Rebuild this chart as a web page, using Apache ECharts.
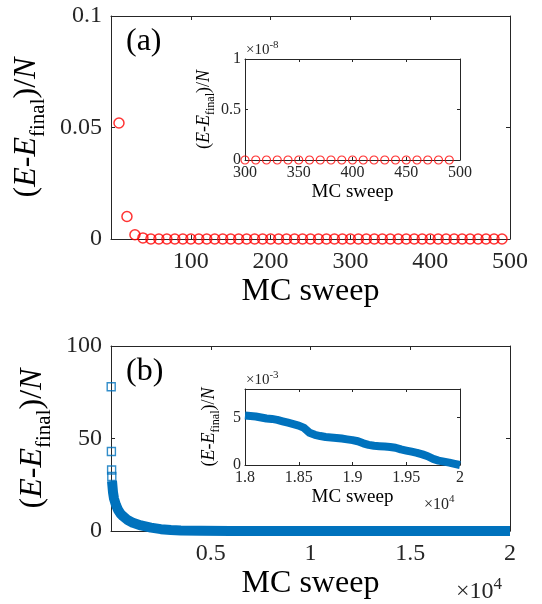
<!DOCTYPE html>
<html>
<head>
<meta charset="utf-8">
<script src="https://cdn.jsdelivr.net/npm/echarts@6/dist/echarts.min.js"></script>
<style>
  html, body { margin: 0; padding: 0; background: #fff; }
  #chart { width: 542px; height: 604px; }
</style>
</head>
<body>
<div id="chart"></div>
<script>
// panel (a): energy difference per spin vs MC sweep (first 500 sweeps)
var aSweep = [10, 20, 30, 40, 50, 60, 70, 80, 90, 100, 110, 120, 130, 140, 150, 160, 170, 180, 190, 200,
    210, 220, 230, 240, 250, 260, 270, 280, 290, 300, 310, 320, 330, 340, 350, 360, 370, 380, 390, 400,
    410, 420, 430, 440, 450, 460, 470, 480, 490];
var aVal = [0.052, 0.0101, 0.0019, 0.0005, 0, 0, 0, 0, 0, 0, 0, 0, 0, 0, 0, 0, 0, 0, 0, 0,
    0, 0, 0, 0, 0, 0, 0, 0, 0, 0, 0, 0, 0, 0, 0, 0, 0, 0, 0, 0,
    0, 0, 0, 0, 0, 0, 0, 0, 0];
// inset (a): sweeps 300..490, values in units of 1e-8
var aInSweep = [300, 310, 320, 330, 340, 350, 360, 370, 380, 390, 400, 410, 420, 430, 440, 450, 460, 470, 480, 490];
var aInVal = [0, 0, 0, 0, 0, 0, 0, 0, 0, 0, 0, 0, 0, 0, 0, 0, 0, 0, 0, 0];

// panel (b): first separate points, then the dense band
var bPtSweep = [10, 20, 30, 40];
var bPtVal = [78, 43, 33, 29.5];
var bSweep = [50, 100, 150, 250, 350, 466, 600, 800, 1100, 1500, 2000, 2500, 3000, 3500, 4500, 6000, 10000, 15000, 20000];
var bVal = [27, 21, 17.5, 14, 11.5, 9.5, 8, 6.2, 4.4, 3.0, 1.8, 1.0, 0.55, 0.3, 0.12, 0.05, 0.02, 0.01, 0.005];
// inset (b): values in units of 1e-3
var bInSweep = [18000, 18050, 18100, 18150, 18200, 18250, 18300, 18350, 18400, 18450, 18500, 18550, 18600, 18650,
    18700, 18750, 18800, 18850, 18900, 18950, 19000, 19050, 19100, 19150, 19200, 19250, 19300, 19350,
    19400, 19450, 19500, 19550, 19600, 19650, 19700, 19750, 19800, 19850, 19900, 19950, 20000];
var bInVal = [5.20, 5.15, 5.10, 5.00, 4.90, 4.85, 4.75, 4.60, 4.45, 4.30, 4.15, 3.90, 3.40, 3.18,
    3.05, 2.95, 2.90, 2.85, 2.78, 2.70, 2.62, 2.50, 2.28, 2.12, 2.02, 1.98, 1.95, 1.90,
    1.82, 1.64, 1.52, 1.40, 1.28, 1.12, 0.92, 0.64, 0.46, 0.35, 0.25, 0.12, 0.00];

var serif = 'Liberation Serif';
var axisColor = '#262626';
var red = '#FF0000';
var blue = '#0072BD';

function pairs(xs, ys) {
    var out = [];
    for (var i = 0; i < xs.length; i++) out.push([xs[i], ys[i]]);
    return out;
}

function yName(size, sub) {
    return {
        text: '{p|(}{i|E}{p|-}{i|E}{s|final}{p|)/}{i|N}',
        rich: {
            p: {fontFamily: serif, fontSize: size, color: '#000', lineHeight: size * 1.2},
            i: {fontFamily: serif, fontSize: size, fontStyle: 'italic', color: '#000', lineHeight: size * 1.2},
            s: {fontFamily: serif, fontSize: sub, color: '#000', verticalAlign: 'bottom', lineHeight: sub, padding: [0, 0, -sub * 0.15, 0]}
        }
    };
}

// one axis; o holds what differs
function ax(gi, pos, r, o) {
    var shown = (pos === 'bottom' || pos === 'left');
    var a = {
        type: 'value', gridIndex: gi, position: pos,
        min: r[0], max: r[1], interval: r[2],
        axisLine: {show: true, onZero: false, lineStyle: {color: axisColor, width: 1}},
        axisTick: {show: true, inside: true, length: o.tick, lineStyle: {color: axisColor, width: 1}},
        splitLine: {show: false},
        axisLabel: {
            show: shown, fontFamily: serif, fontSize: o.fs, color: axisColor, margin: o.margin,
            showMinLabel: o.showMin !== false, showMaxLabel: o.showMax !== false,
            formatter: o.fmt
        }
    };
    if (shown && o.name) {
        a.name = o.name.text;
        a.nameLocation = 'middle';
        a.nameGap = o.nameGap;
        a.nameTextStyle = o.name.rich ? {rich: o.name.rich} : {fontFamily: serif, fontSize: o.name.size, color: '#000'};
    }
    return a;
}

var grids = [
    {left: 111, top: 16, width: 399, height: 223},
    {left: 245, top: 59, width: 215, height: 101, show: true, backgroundColor: '#fff', borderWidth: 0},
    {left: 111, top: 346, width: 399, height: 185},
    {left: 245, top: 389, width: 215, height: 76, show: true, backgroundColor: '#fff', borderWidth: 0}
];

var big = {fs: 24, tick: 4};
var small = {fs: 16, tick: 3};

var xAxes = [
    ax(0, 'bottom', [0, 500, 100], {fs: 24, tick: 4, margin: 11, showMin: false,
        name: {text: 'MC sweep', size: 32}, nameGap: 37}),
    ax(0, 'top', [0, 500, 100], big),
    ax(1, 'bottom', [300, 500, 50], {fs: 16, tick: 3, margin: 5,
        name: {text: 'MC sweep', size: 19}, nameGap: 23}),
    ax(1, 'top', [300, 500, 50], small),
    ax(2, 'bottom', [0, 20000, 5000], {fs: 24, tick: 4, margin: 11, showMin: false,
        fmt: function (v) { return String(v / 10000); },
        name: {text: 'MC sweep', size: 32}, nameGap: 37}),
    ax(2, 'top', [0, 20000, 5000], big),
    ax(3, 'bottom', [18000, 20000, 500], {fs: 16, tick: 3, margin: 5,
        fmt: function (v) { return String(v / 10000); },
        name: {text: 'MC sweep', size: 19}, nameGap: 23}),
    ax(3, 'top', [18000, 20000, 500], small)
];

var yAxes = [
    ax(0, 'left', [0, 0.1, 0.05], {fs: 24, tick: 4, margin: 9, name: yName(32, 21), nameGap: 54}),
    ax(0, 'right', [0, 0.1, 0.05], big),
    ax(1, 'left', [0, 1, 0.5], {fs: 16, tick: 3, margin: 4, name: yName(18, 12), nameGap: 25}),
    ax(1, 'right', [0, 1, 0.5], small),
    ax(2, 'left', [0, 100, 50], {fs: 24, tick: 4, margin: 9, name: yName(32, 21), nameGap: 54}),
    ax(2, 'right', [0, 100, 50], big),
    ax(3, 'left', [0, 8, 5], {fs: 16, tick: 3, margin: 4, showMax: false, name: yName(18, 12), nameGap: 25}),
    ax(3, 'right', [0, 8, 5], {fs: 16, tick: 3, showMax: false})
];

function times(x, y, sup, size) {
    return {
        type: 'text', left: x, top: y, z: 100,
        style: {
            text: '{m|×10}{s|' + sup + '}',
            rich: {
                m: {fontFamily: serif, fontSize: size, fill: axisColor, lineHeight: size * 1.3},
                s: {fontFamily: serif, fontSize: Math.round(size * 0.7), fill: axisColor, verticalAlign: 'top', lineHeight: size * 0.7}
            }
        }
    };
}

var option = {
    animation: false,
    backgroundColor: '#fff',
    grid: grids,
    xAxis: xAxes,
    yAxis: yAxes,
    series: [
        {
            type: 'scatter', xAxisIndex: 0, yAxisIndex: 0, clip: false,
            symbol: 'circle', symbolSize: 10,
            itemStyle: {color: 'rgba(0,0,0,0)', borderColor: red, borderWidth: 1.5},
            data: pairs(aSweep, aVal)
        },
        {
            type: 'scatter', xAxisIndex: 2, yAxisIndex: 2, clip: false,
            symbol: 'circle', symbolSize: 8,
            itemStyle: {color: 'rgba(0,0,0,0)', borderColor: red, borderWidth: 1.2},
            data: pairs(aInSweep, aInVal)
        },
        {
            type: 'line', xAxisIndex: 4, yAxisIndex: 4, clip: false,
            showSymbol: false, smooth: false,
            lineStyle: {color: blue, width: 10, join: 'round'},
            data: pairs(bSweep, bVal)
        },
        {
            type: 'scatter', xAxisIndex: 4, yAxisIndex: 4, clip: false,
            symbol: 'rect', symbolSize: 8,
            itemStyle: {color: 'rgba(0,0,0,0)', borderColor: blue, borderWidth: 1.4},
            data: pairs(bPtSweep, bPtVal)
        },
        {
            type: 'line', xAxisIndex: 6, yAxisIndex: 6, clip: false,
            showSymbol: false,
            lineStyle: {color: blue, width: 8, join: 'round'},
            data: pairs(bInSweep, bInVal)
        }
    ],
    graphic: [
        {type: 'text', left: 126, top: 26, style: {text: '(a)', font: '32px "Liberation Serif"', fill: '#000'}},
        {type: 'text', left: 126, top: 356, style: {text: '(b)', font: '32px "Liberation Serif"', fill: '#000'}},
        times(246, 40, '-8', 15),
        times(246, 370, '-3', 15),
        times(456, 576, '4', 24),
        times(424, 494, '4', 16)
    ]
};

var chart = echarts.init(document.getElementById('chart'), null, {renderer: 'canvas'});
chart.setOption(option);
</script>
</body>
</html>
